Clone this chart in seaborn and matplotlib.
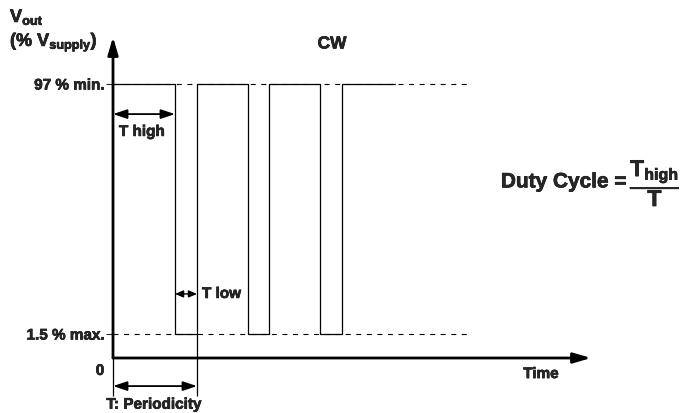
import matplotlib
matplotlib.use("Agg")
import matplotlib.pyplot as plt
import matplotlib.patheffects as pe
import seaborn as sns

# output levels (% of V supply) and edge times of the PWM signal
level_labels = ["1.5 % max.", "97 % min."]
level_values = [1.5, 97]
edge_times = [0, 62, 84, 135, 156, 207, 229, 282]
edge_levels = [97, 1.5, 97, 1.5, 97, 1.5, 97, 97]
t_high = [0, 62]
t_low = [62, 84]
t_period = [0, 84]

sns.set_style("white")
plt.rcParams["font.family"] = ["Liberation Sans", "DejaVu Sans"]
plt.rcParams["font.weight"] = "bold"
plt.rcParams["mathtext.fontset"] = "custom"
plt.rcParams["mathtext.rm"] = "Liberation Sans:bold"
plt.rcParams["mathtext.it"] = "Liberation Sans:bold"
plt.rcParams["mathtext.bf"] = "Liberation Sans:bold"
plt.rcParams["mathtext.default"] = "bf"

# slightly heavier strokes, like the Helvetica Bold of the original
heavy = [pe.withStroke(linewidth=0.45, foreground="black")]

fig = plt.figure(figsize=(6.86, 4.14), dpi=100)
ax = fig.add_axes([113 / 686, 55 / 414, 478 / 686, 321 / 414])
ax.set_xlim(0, 478)
ax.set_ylim(-7.67, 114.95)

# dashed reference levels
ax.hlines(level_values, 0, 355, colors="black", lw=0.8, linestyles=(0, (4.5, 5)))

# the signal
sns.lineplot(x=edge_times, y=edge_levels, drawstyle="steps-post", estimator=None,
             sort=False, color="black", lw=0.9, ax=ax)

for s in ax.spines.values():
    s.set_visible(False)
ax.set_xticks([])
ax.set_yticks(level_values)
ax.set_yticklabels(level_labels, fontweight="bold")
ax.tick_params(axis="y", length=5, width=0.8, pad=1, labelsize=11, left=True)
for lab in ax.get_yticklabels():
    lab.set_path_effects(heavy)

# axes with arrow heads
axis_arrow = dict(arrowstyle="-|>,head_length=0.75,head_width=0.22", lw=2,
                  color="black", shrinkA=0, shrinkB=0, mutation_scale=14)
ax.annotate("", xy=(1, 0), xytext=(0, 0), xycoords="axes fraction", arrowprops=axis_arrow)
ax.annotate("", xy=(0, 1), xytext=(0, 0), xycoords="axes fraction", arrowprops=axis_arrow)

dbl = dict(arrowstyle="<|-|>,head_length=0.6,head_width=0.2", lw=1.3, color="black",
           shrinkA=0, shrinkB=0, mutation_scale=14)
small = dict(arrowstyle="<|-|>,head_length=0.35,head_width=0.15", lw=1.0, color="black",
             shrinkA=0, shrinkB=0, mutation_scale=14)

bold = dict(fontweight="bold", clip_on=False, path_effects=heavy)

# T high
ax.annotate("", xy=(t_high[0], 85.5), xytext=(t_high[1], 85.5), arrowprops=dbl)
ax.text(29, 78.7, "T high", ha="center", va="center", fontsize=11, **bold)

# T low
ax.annotate("", xy=(t_low[0], 16.8), xytext=(t_low[1], 16.8), arrowprops=small)
ax.text(89, 16.8, "T low", ha="left", va="center", fontsize=11, **bold)

# periodicity marker below the time axis
ax.vlines([t_period[0]], -22.2, -7.67, colors="black", lw=0.9, clip_on=False)
ax.vlines([t_period[1]], -22.2, 1.5, colors="black", lw=0.9, clip_on=False)
ax.annotate("", xy=(t_period[0], -18.4), xytext=(t_period[1], -18.4),
            arrowprops=dbl, annotation_clip=False)
ax.text(41, -25.5, "T: Periodicity", ha="center", va="center", fontsize=11, **bold)

ax.text(-13, -12.6, "0", ha="center", va="center", fontsize=11, **bold)
ax.text(428, -13.8, "Time", ha="center", va="center", fontsize=11, **bold)
ax.text(219, 112.3, "CW", ha="center", va="center", fontsize=12.5, **bold)

# duty cycle formula
ax.text(514, 59.6, "Duty Cycle =", ha="right", va="center", fontsize=15, **bold)
ax.text(517, 59.6, r"$\dfrac{T_{high}}{T}$", ha="left", va="center", fontsize=16.5, **bold)

# y label
fig.text(10 / 686, 1 - 23 / 414, r"$V_{out}$", ha="left", va="baseline",
         fontsize=13, fontweight="bold", path_effects=heavy)
fig.text(10 / 686, 1 - 47 / 414, r"(% $V_{supply}$)", ha="left", va="baseline",
         fontsize=13, fontweight="bold", path_effects=heavy)

fig.savefig("out.png", dpi=100)
